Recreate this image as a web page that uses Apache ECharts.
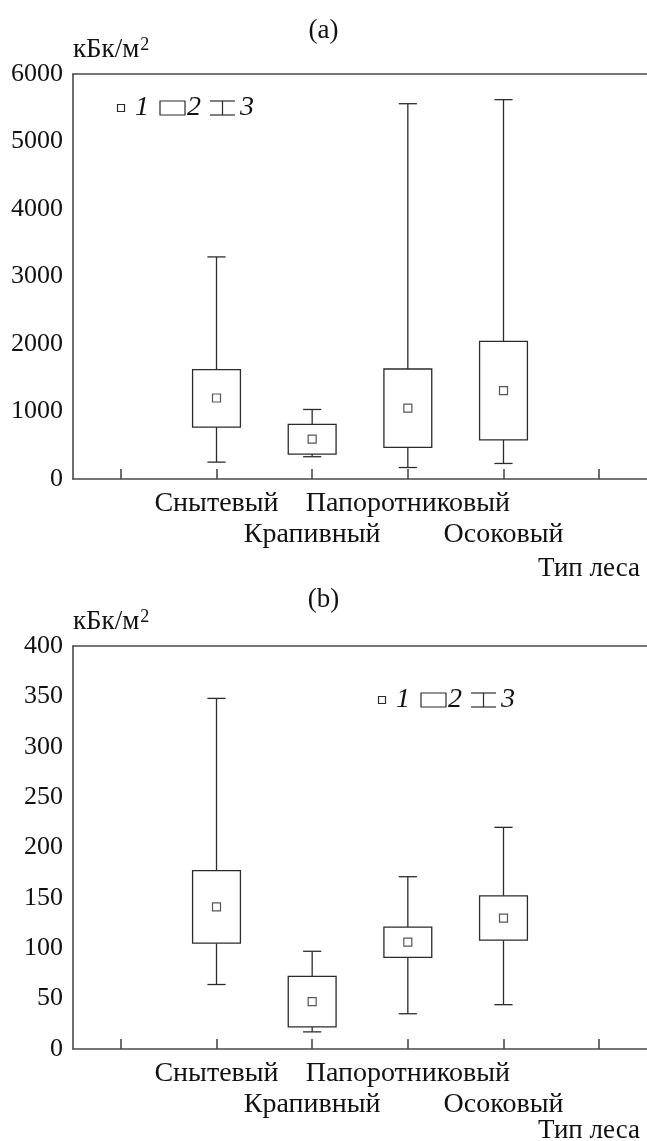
<!DOCTYPE html>
<html>
<head>
<meta charset="utf-8">
<script src="https://cdn.jsdelivr.net/npm/echarts@6/dist/echarts.min.js"></script>
<style>
html,body{margin:0;padding:0;background:#fff;}
#chart{width:647px;height:1141px;}
</style>
</head>
<body>
<div id="chart"></div>
<script>
// ---- data ----
const categories = ['', 'Снытевый', 'Крапивный', 'Папоротниковый', 'Осоковый', ''];
const forestIdx = [1, 2, 3, 4];
// (a)
const aMin  = [250, 330, 170, 230];
const aQ1   = [770, 370, 470, 580];
const aMean = [1200, 590, 1050, 1310];
const aQ3   = [1620, 810, 1630, 2040];
const aMax  = [3290, 1030, 5560, 5620];
// (b)
const bMin  = [64, 17, 35, 44];
const bQ1   = [105, 22, 91, 108];
const bMean = [141, 47, 106, 130];
const bQ3   = [177, 72, 121, 152];
const bMax  = [348, 97, 171, 220];
const aTicks = {min: 0, max: 6000, interval: 1000};
const bTicks = {min: 0, max: 400, interval: 50};
const unitLabel = 'кБк/м';
const xName = 'Тип леса';
const legendNames = ['1', '2', '3'];

// ---- styling ----
const FONT = "'Liberation Serif', 'Times New Roman', serif";
const INK = '#2b2b2b';
const AX = '#4a4a4a';

function boxData(mn, q1, q3, mx) {
  return forestIdx.map((c, i) => [c, mn[i], q1[i], q3[i], mx[i]]);
}
function meanData(m) {
  return forestIdx.map((c, i) => [c, m[i]]);
}

function renderBox(params, api) {
  const x = api.value(0);
  const pMin = api.coord([x, api.value(1)]);
  const pQ1 = api.coord([x, api.value(2)]);
  const pQ3 = api.coord([x, api.value(3)]);
  const pMax = api.coord([x, api.value(4)]);
  const band = api.size([1, 0])[0];
  const bw = band * 0.5;
  const cw = band * 0.19;
  const cx = pQ1[0];
  const st = {stroke: INK, lineWidth: 1.3, fill: null};
  return {
    type: 'group',
    children: [
      {type: 'line', shape: {x1: cx, y1: pMin[1], x2: cx, y2: pQ1[1]}, style: st},
      {type: 'line', shape: {x1: cx, y1: pQ3[1], x2: cx, y2: pMax[1]}, style: st},
      {type: 'line', shape: {x1: cx - cw/2, y1: pMin[1], x2: cx + cw/2, y2: pMin[1]}, style: st},
      {type: 'line', shape: {x1: cx - cw/2, y1: pMax[1], x2: cx + cw/2, y2: pMax[1]}, style: st},
      {type: 'rect', shape: {x: cx - bw/2, y: pQ3[1], width: bw, height: pQ1[1] - pQ3[1]}, style: {stroke: INK, lineWidth: 1.3, fill: '#fff'}}
    ]
  };
}

function legendGraphic(x0, yc) {
  const st = {stroke: INK, lineWidth: 1.2, fill: '#fff'};
  const ts = {fontFamily: FONT, fontSize: 28, fontStyle: 'italic', fill: '#111', verticalAlign: 'middle'};
  return [
    {type: 'rect', shape: {x: x0 - 3.5, y: yc - 3.5, width: 7, height: 7}, style: st},
    {type: 'text', x: x0 + 14, y: yc, style: Object.assign({text: legendNames[0]}, ts)},
    {type: 'rect', shape: {x: x0 + 39, y: yc - 7, width: 25, height: 14}, style: st},
    {type: 'text', x: x0 + 66, y: yc, style: Object.assign({text: legendNames[1]}, ts)},
    {type: 'line', shape: {x1: x0 + 89, y1: yc - 7, x2: x0 + 114, y2: yc - 7}, style: st},
    {type: 'line', shape: {x1: x0 + 89, y1: yc + 7, x2: x0 + 114, y2: yc + 7}, style: st},
    {type: 'line', shape: {x1: x0 + 101.5, y1: yc - 7, x2: x0 + 101.5, y2: yc + 7}, style: st},
    {type: 'text', x: x0 + 119, y: yc, style: Object.assign({text: legendNames[2]}, ts)}
  ];
}

function xAxisCfg(gi) {
  return {
    type: 'category', gridIndex: gi, data: categories, boundaryGap: true, position: 'bottom',
    axisLine: {lineStyle: {color: AX, width: 1.6}},
    axisTick: {show: true, inside: true, length: 10, alignWithLabel: true, interval: 0, lineStyle: {color: AX, width: 1.6}},
    axisLabel: {
      interval: 0, margin: 9, color: '#111', fontFamily: FONT, fontSize: 28, lineHeight: 31,
      formatter: function (v, i) { return (i === 2 || i === 4) ? '\n' + v : v; }
    },
    splitLine: {show: false}
  };
}
function xTopCfg(gi) {
  return {
    type: 'category', gridIndex: gi, data: categories, position: 'top',
    axisLine: {show: true, lineStyle: {color: AX, width: 1.6}},
    axisTick: {show: false}, axisLabel: {show: false}, splitLine: {show: false}
  };
}
function yAxisCfg(gi, t) {
  return {
    type: 'value', gridIndex: gi, min: t.min, max: t.max, interval: t.interval,
    name: '{u|' + unitLabel + '}{s|2}', nameLocation: 'end', nameGap: 10,
    nameTextStyle: {
      align: 'left',
      rich: {
        u: {fontFamily: FONT, fontSize: 27, color: '#111', lineHeight: 28},
        s: {fontFamily: FONT, fontSize: 18, color: '#111', verticalAlign: 'top', lineHeight: 28, padding: [0, 0, 12, 1]}
      }
    },
    axisLine: {show: true, lineStyle: {color: AX, width: 1.6}},
    axisTick: {show: false},
    axisLabel: {margin: 10, color: '#111', fontFamily: FONT, fontSize: 26, formatter: function (v) { return String(v); }},
    splitLine: {show: false}
  };
}

const TS = {fontFamily: FONT, fontSize: 27, fontWeight: 'normal', color: '#111'};
const chart = echarts.init(document.getElementById('chart'), null, {renderer: 'canvas'});
chart.setOption({
  backgroundColor: '#fff',
  animation: false,
  title: [
    {text: '(a)', left: 'center', top: 12, textStyle: TS},
    {text: '(b)', left: 'center', top: 581, textStyle: TS},
    {text: xName, right: 2, top: 550, textStyle: TS},
    {text: xName, right: 2, top: 1112, textStyle: TS}
  ],
  grid: [
    {left: 73, top: 74, width: 577, height: 405},
    {left: 73, top: 646, width: 577, height: 403}
  ],
  xAxis: [xAxisCfg(0), xAxisCfg(1), xTopCfg(0), xTopCfg(1)],
  yAxis: [yAxisCfg(0, aTicks), yAxisCfg(1, bTicks)],
  graphic: legendGraphic(121, 108).concat(legendGraphic(382, 700)),
  series: [
    {type: 'custom', xAxisIndex: 0, yAxisIndex: 0, renderItem: renderBox, data: boxData(aMin, aQ1, aQ3, aMax), encode: {x: 0, y: [1, 2, 3, 4]}, z: 2},
    {type: 'scatter', xAxisIndex: 0, yAxisIndex: 0, data: meanData(aMean), symbol: 'rect', symbolSize: 8, itemStyle: {color: '#fff', borderColor: INK, borderWidth: 1.2}, z: 3},
    {type: 'custom', xAxisIndex: 1, yAxisIndex: 1, renderItem: renderBox, data: boxData(bMin, bQ1, bQ3, bMax), encode: {x: 0, y: [1, 2, 3, 4]}, z: 2},
    {type: 'scatter', xAxisIndex: 1, yAxisIndex: 1, data: meanData(bMean), symbol: 'rect', symbolSize: 8, itemStyle: {color: '#fff', borderColor: INK, borderWidth: 1.2}, z: 3}
  ]
});
</script>
</body>
</html>
